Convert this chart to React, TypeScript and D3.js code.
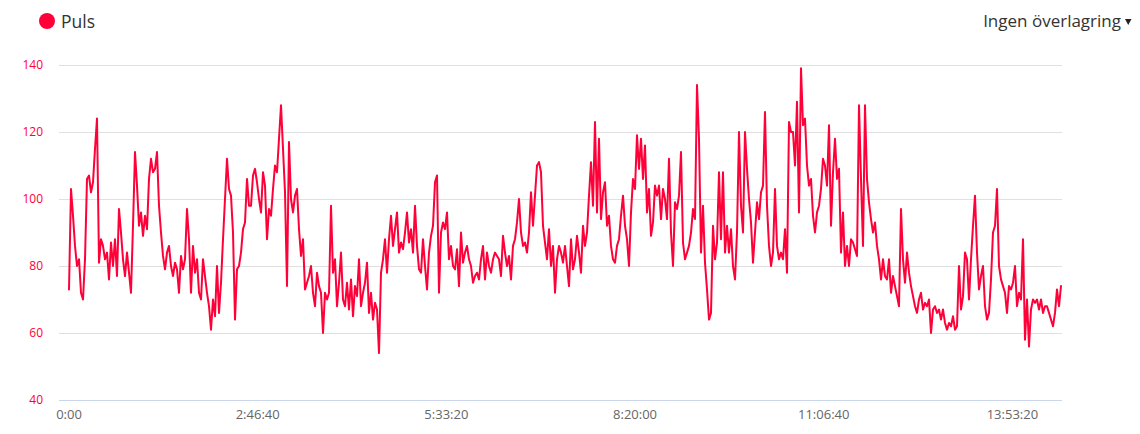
import React from "react";
import * as d3 from "d3";

// Heart rate ("Puls") samples, one every STEP_SECONDS
const puls: number[] = [
  73,103,95,86,80,82,72,70,82,106, 107,102,105,115,124,81,88,86,82,84, 76,87,80,88,77,97,90,82,77,84,
  78,72,92,114,104,92,96,89,95,91, 106,112,108,109,114,98,90,83,79,84, 86,80,77,81,79,72,83,79,82,97, 88,
  72,86,78,82,72,70,82,77,72,68, 61,70,65,80,66,75,88,100,112,103, 101,90,64,79,80,84,91,93,106,98,
  98,107,109,105,100,96,108,104,88,97, 95,103,110,108,118,128,115,102,74,117, 100,96,101,103,91,83,88,73,75,77, 80,72,
  68,78,74,72,60,72,70,72,98,78, 82,68,75,84,70,68,75,67,76,65, 74,71,82,68,72,75,81,66,72,64,
  69,67,54,78,82,88,78,88,95,86, 91,96,84,87,85,90,96,87,91,84, 98,86,79,78,88,80,73,84,89,92, 105,107,72,
  90,93,91,96,82,86,80,79,85,74, 90,81,84,86,82,80,75,77,78,76, 82,86,76,84,80,78,82,84,83,82,
  77,89,84,80,83,76,86,88,93,100, 90,86,87,84,90,102,92,101,110,111, 108,92,87,82,91,80,86,72,82,86, 84,81,
  86,80,74,88,79,82,89,84,78,92, 86,90,101,111,98,123,96,118,94,102, 105,92,95,86,82,81,86,88,95,101,
  92,88,80,96,106,103,119,109,118,106, 116,96,103,89,93,104,101,104,94,103, 100,94,112,90,80,99,97,101,114,87, 82,84,86,
  90,97,94,134,118,84,98,81,73,64, 66,92,82,87,108,88,108,84,92,84, 91,80,76,90,120,98,90,120,109,100,
  93,81,90,99,94,102,104,126,98,86, 80,84,103,86,82,84,82,91,78,123, 120,120,110,129,96,139,122,124,110,104, 106,95,
  90,96,98,103,112,110,104,122,92,108, 118,106,109,84,96,80,86,80,88,87, 85,83,128,106,86,128,106,99,94,90,
  93,86,82,76,82,77,76,82,72,77, 74,71,68,97,82,75,84,78,74,71, 68,66,70,72,67,69,68,70,60,67, 68,66,67,
  64,67,63,61,63,62,65,61,62,80, 67,71,84,82,70,82,92,101,84,73, 77,80,68,64,66,76,90,92,103,80,
  76,74,72,66,74,73,75,80,68,72, 70,88,58,70,56,67,70,69,70,67, 70,66,68,68,66,64,62,66,73,68, 74,
];
const STEP_SECONDS = 106;
const yTicks: number[] = [40, 60, 80, 100, 120, 140];
const xTicks: number[] = [0, 10000, 20000, 30000, 40000, 50000];
const seriesName = "Puls";
const overlayLabel = "Ingen överlagring";

const RED = "#ff0038";
const FONT = "'Open Sans', sans-serif";

function fmt(t: number): string {
  if (t === 0) return "0:00";
  const h = Math.floor(t / 3600);
  const m = Math.floor((t % 3600) / 60);
  const s = t % 60;
  return `${h}:${String(m).padStart(2, "0")}:${String(s).padStart(2, "0")}`;
}

export default function App() {
  const W = 1140, H = 434;
  const tEnd = STEP_SECONDS * (puls.length - 1);
  const x = d3.scaleLinear().domain([0, tEnd]).range([69, 1061]);
  const y = d3.scaleLinear().domain([40, 140]).range([400, 65]);
  const line = d3
    .line<number>()
    .x((_, i) => x(i * STEP_SECONDS))
    .y((d) => y(d));
  const gridX0 = 59, gridX1 = 1062;

  return (
    <svg
      width={W}
      height={H}
      style={{ position: "absolute", left: 0, top: 0, background: "#fff" }}
      fontFamily={FONT}
    >
      {/* legend */}
      <circle cx={47} cy={21} r={8} fill={RED} />
      <text x={61} y={28} fontSize={17.5} fill="#333">{seriesName}</text>
      <text x={1121} y={27} fontSize={17} fill="#333" textAnchor="end">{overlayLabel}</text>
      <path d="M1125,19 L1131.5,19 L1128.25,25 Z" fill="#222" />

      {/* grid */}
      {yTicks.map((v) => (
        <line
          key={v}
          x1={gridX0}
          x2={gridX1}
          y1={y(v) + 0.5}
          y2={y(v) + 0.5}
          stroke={v === 40 ? "#ccd6eb" : "#e0e0e0"}
          strokeWidth={1}
        />
      ))}
      {yTicks.map((v) => (
        <text key={"l" + v} x={43} y={y(v) + 4} fontSize={12} fill={RED} textAnchor="end">
          {v}
        </text>
      ))}
      {xTicks.map((t) => (
        <text key={"x" + t} x={x(t)} y={419} fontSize={13} fill="#666" textAnchor="middle">
          {fmt(t)}
        </text>
      ))}

      <path d={line(puls) || ""} fill="none" stroke={RED} strokeWidth={2} strokeLinejoin="round" strokeLinecap="round" />
    </svg>
  );
}
